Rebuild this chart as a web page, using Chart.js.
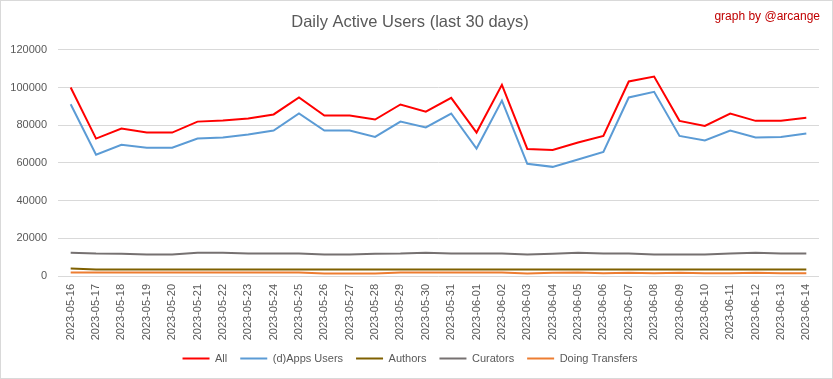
<!DOCTYPE html>
<html>
<head>
<meta charset="utf-8">
<script src="https://cdn.jsdelivr.net/npm/chart.js@4"></script>
<style>
  html, body { margin: 0; padding: 0; background: #fff; }
  #wrap { position: relative; width: 831px; height: 377px; border: 1px solid #d9d9d9; }
</style>
</head>
<body>
<div id="wrap"><canvas id="c" width="831" height="377"></canvas></div>
<script>
const categories = ["2023-05-16","2023-05-17","2023-05-18","2023-05-19","2023-05-20","2023-05-21","2023-05-22","2023-05-23","2023-05-24","2023-05-25","2023-05-26","2023-05-27","2023-05-28","2023-05-29","2023-05-30","2023-05-31","2023-06-01","2023-06-02","2023-06-03","2023-06-04","2023-06-05","2023-06-06","2023-06-07","2023-06-08","2023-06-09","2023-06-10","2023-06-11","2023-06-12","2023-06-13","2023-06-14"];
const allUsers = [100000,72900,78200,76100,76100,81900,82500,83500,85700,94700,85100,85100,83000,91000,87200,94500,76100,101400,67400,66900,70800,74300,103200,105800,82300,79600,86200,82300,82300,83900];
const appsUsers = [91100,64300,69600,68100,68100,72900,73500,75100,77200,86200,77200,77200,73800,81900,78800,86200,67600,93100,59500,57900,61800,65800,94700,97700,74300,71900,77200,73500,73800,75600];
const authors = [4000,3500,3400,3400,3400,3400,3400,3400,3400,3400,3400,3400,3400,3400,3400,3400,3400,3400,3400,3400,3400,3400,3400,3400,3400,3400,3400,3400,3400,3400];
const curators = [12300,11900,11800,11400,11400,12300,12300,11900,11900,11900,11400,11400,11800,11900,12300,11900,11900,11900,11400,11800,12300,11900,11900,11400,11400,11400,11900,12300,11900,11900];
const transfers = [1800,1800,1800,1800,1800,1800,1800,1800,1800,1800,1300,1300,1300,1800,1800,1800,1800,1800,1300,1700,1800,1400,1700,1400,1700,1400,1400,1700,1400,1400];
const yTicks = [0,20000,40000,60000,80000,100000,120000];

const FONT = "'Liberation Sans', Arial, sans-serif";
const TXT = '#595959';

const credit = {
  id: 'credit',
  afterDraw(chart) {
    const ctx = chart.ctx;
    ctx.save();
    ctx.fillStyle = '#c00000';
    ctx.font = "12px " + FONT;
    ctx.textAlign = 'right';
    ctx.textBaseline = 'middle';
    ctx.fillText('graph by @arcange', 819, 16);
    ctx.restore();
  }
};

function ds(label, data, color) {
  return { label, data, borderColor: color, backgroundColor: color, borderWidth: 2,
           pointRadius: 0, pointHoverRadius: 0, tension: 0, fill: false };
}

new Chart(document.getElementById('c'), {
  type: 'line',
  data: {
    labels: categories,
    datasets: [
      ds('All', allUsers, '#ff0000'),
      ds('(d)Apps Users', appsUsers, '#5b9bd5'),
      ds('Authors', authors, '#7f6000'),
      ds('Curators', curators, '#767171'),
      ds('Doing Transfers', transfers, '#ed7d31')
    ]
  },
  options: {
    responsive: false,
    animation: false,
    layout: { padding: { left: 0, right: 13, top: 0, bottom: 4 } },
    plugins: {
      title: { display: true, text: 'Daily Active Users (last 30 days)', color: TXT,
               font: { family: FONT, size: 16.5, weight: 'normal' }, padding: { top: 12, bottom: 17 } },
      legend: { position: 'bottom',
                labels: { usePointStyle: true, pointStyle: 'line', pointStyleWidth: 27, boxHeight: 11, color: TXT,
                          font: { family: FONT, size: 11 }, padding: 13 } },
      tooltip: { enabled: false }
    },
    scales: {
      x: {
        offset: true,
        afterFit(s) { s.height = 64; },
        grid: { display: false },
        border: { display: false },
        ticks: { color: TXT, font: { family: FONT, size: 11 }, minRotation: 90, maxRotation: 90, autoSkip: false, padding: 0 }
      },
      y: {
        min: 0, max: 120000,
        afterFit(s) { s.width = 57; },
        afterBuildTicks(s) { s.ticks = yTicks.map(v => ({ value: v })); },
        grid: { color: '#d9d9d9', drawTicks: false },
        border: { display: false },
        ticks: { color: TXT, font: { family: FONT, size: 11 }, padding: 11, callback: v => String(v) }
      }
    }
  },
  plugins: [credit]
});
</script>
</body>
</html>
